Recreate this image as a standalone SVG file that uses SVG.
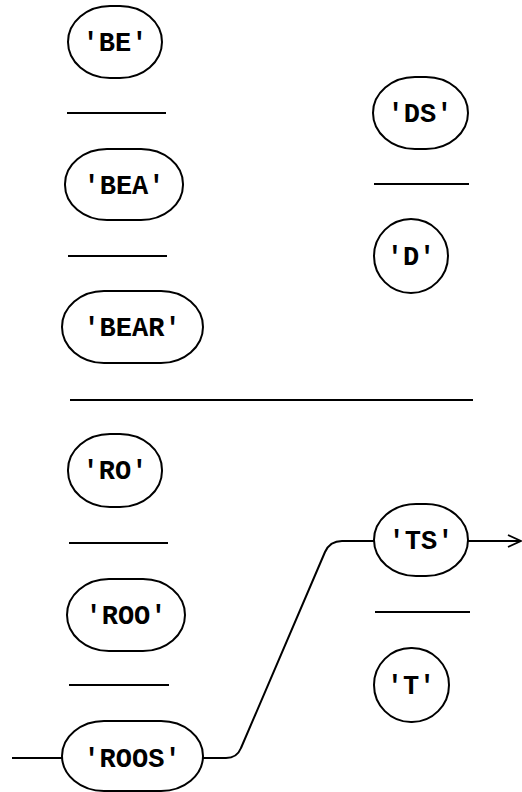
<svg xmlns="http://www.w3.org/2000/svg" width="522" height="792" viewBox="0 0 522 792">
<style>
.n{fill:#fff;stroke:#000;stroke-width:2}
.t{font-family:"Liberation Mono","Courier New",monospace;font-weight:bold;font-size:27px;text-anchor:middle;fill:#000}
.s{stroke:#000;stroke-width:2;fill:none}
</style>
<defs>
<marker id="ar" markerWidth="16" markerHeight="16" refX="14" refY="8" orient="auto" markerUnits="userSpaceOnUse">
<path d="M1,2 L14,8 L1,14" fill="none" stroke="#000" stroke-width="1.8"/>
</marker>
</defs>
<g id="connectors">
<line class="s" x1="67" y1="113" x2="166" y2="113"/>
<line class="s" x1="68" y1="256" x2="167" y2="256"/>
<line class="s" x1="70" y1="400" x2="473" y2="400"/>
<line class="s" x1="374" y1="184" x2="469" y2="184"/>
<line class="s" x1="69" y1="543" x2="168" y2="543"/>
<line class="s" x1="69" y1="685" x2="169" y2="685"/>
<line class="s" x1="375" y1="612" x2="470" y2="612"/>
<line class="s" x1="12" y1="758" x2="62" y2="758"/>
<path class="s" d="M203,758 H226 Q237,758 241,748 L325,552 Q330,541 342,541 H374"/>
<line class="s" x1="468" y1="541" x2="521" y2="541" marker-end="url(#ar)"/>
</g>
<g id="BE"><rect class="n" x="68" y="6" width="94" height="72" rx="42" ry="36"/><text class="t" x="115" y="51">'BE'</text></g>
<g id="BEA"><rect class="n" x="65" y="149" width="118" height="71" rx="42" ry="35"/><text class="t" x="124" y="194">'BEA'</text></g>
<g id="BEAR"><rect class="n" x="62" y="291" width="141" height="72" rx="42" ry="36"/><text class="t" x="132" y="336">'BEAR'</text></g>
<g id="DS"><rect class="n" x="373" y="77" width="95" height="72" rx="42" ry="36"/><text class="t" x="420" y="122">'DS'</text></g>
<g id="D"><rect class="n" x="374" y="219" width="74" height="74" rx="37" ry="37"/><text class="t" x="411" y="265">'D'</text></g>
<g id="RO"><rect class="n" x="68" y="434" width="94" height="73" rx="42" ry="36"/><text class="t" x="115" y="479">'RO'</text></g>
<g id="ROO"><rect class="n" x="67" y="579" width="118" height="72" rx="42" ry="36"/><text class="t" x="126" y="624">'ROO'</text></g>
<g id="ROOS"><rect class="n" x="62" y="721" width="141" height="70" rx="42" ry="35"/><text class="t" x="132" y="767">'ROOS'</text></g>
<g id="TS"><rect class="n" x="374" y="504" width="94" height="72" rx="42" ry="36"/><text class="t" x="421" y="549">'TS'</text></g>
<g id="T"><rect class="n" x="374" y="648" width="75" height="74" rx="37" ry="37"/><text class="t" x="411" y="694">'T'</text></g>
</svg>
